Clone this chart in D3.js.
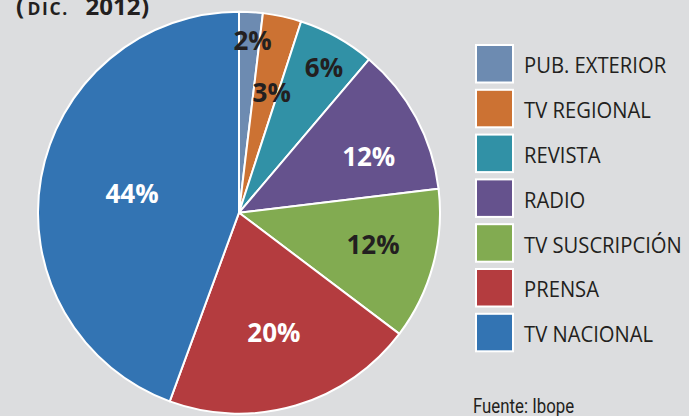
<!DOCTYPE html>
<html>
<head>
<meta charset="utf-8">
<script src="https://cdn.jsdelivr.net/npm/d3@7"></script>
<style>
  html, body { margin: 0; padding: 0; background: #dcdddf; }
  svg { display: block; }
</style>
</head>
<body>
<svg id="svg" width="689" height="416"></svg>
<script>
var categories = ["PUB. EXTERIOR", "TV REGIONAL", "REVISTA", "RADIO", "TV SUSCRIPCIÓN", "PRENSA", "TV NACIONAL"];
var shares = [1.9, 3.1, 6.2, 11.9, 12.2, 20.3, 44.4];
var shareLabels = ["2%", "3%", "6%", "12%", "12%", "20%", "44%"];
var colors = ["#6d8bb1", "#cc7233", "#3191a6", "#65528d", "#82ab51", "#b43c3f", "#3374b3"];
var labelColors = ["#231f20", "#231f20", "#231f20", "#ffffff", "#231f20", "#ffffff", "#ffffff"];
// where each % label sits: distance from centre (fraction of radius), angle shift from slice middle (deg)
var labelRadius = [0.857, 0.619, 0.836, 0.703, 0.686, 0.623, 0.54];
var labelShift = [1.1, 2.8, 1.2, 4.9, -1.6, 0.2, -0.2];

var svg = d3.select("#svg");
var center = { x: 239, y: 212.7 };
var radius = 201;

var data = categories.map(function (c, i) {
  return { name: c, value: shares[i], label: shareLabels[i], i: i };
});

// title, cut off at the top like the source
var title = svg.append("text")
  .attr("y", 15)
  .attr("font-family", "'Open Sans', sans-serif")
  .attr("font-weight", 700)
  .attr("font-size", 24)
  .attr("fill", "#231f20");
title.append("tspan").attr("x", 16).text("(");
title.append("tspan").attr("x", 27.5).attr("font-size", 17.5).attr("letter-spacing", 1.6).text("DIC.");
title.append("tspan").attr("x", 85.5).text("2012");
title.append("tspan").attr("x", 141).text(")");

var pie = d3.pie()
  .sort(null)
  .value(function (d) { return d.value; });

var arc = d3.arc().innerRadius(0).outerRadius(radius);

var g = svg.append("g")
  .attr("transform", "translate(" + center.x + "," + center.y + ")");

var arcs = pie(data);

g.selectAll("path")
  .data(arcs)
  .enter()
  .append("path")
  .attr("d", arc)
  .attr("fill", function (d) { return colors[d.data.i]; })
  .attr("stroke", "#ffffff")
  .attr("stroke-width", 2)
  .attr("stroke-linejoin", "round");

g.selectAll("text.pct")
  .data(arcs)
  .enter()
  .append("text")
  .classed("pct", true)
  .attr("transform", function (d) {
    var r = radius * labelRadius[d.data.i];
    var a = (d.startAngle + d.endAngle) / 2 + labelShift[d.data.i] * Math.PI / 180;
    return "translate(" + (r * Math.sin(a)) + "," + (-r * Math.cos(a)) + ")";
  })
  .attr("text-anchor", "middle")
  .attr("dy", "0.36em")
  .attr("font-family", "'Open Sans', sans-serif")
  .attr("font-weight", 700)
  .attr("font-size", 26)
  .attr("fill", function (d) { return labelColors[d.data.i]; })
  .text(function (d) { return d.data.label; });

// legend
var legendY = d3.scaleBand()
  .domain(categories)
  .range([44, 44 + 44.8 * categories.length])
  .paddingInner(0);

var legend = svg.append("g").attr("transform", "translate(475,0)");
var items = legend.selectAll("g")
  .data(data)
  .enter()
  .append("g")
  .attr("transform", function (d) { return "translate(0," + legendY(d.name) + ")"; });

items.append("rect")
  .attr("x", 1)
  .attr("y", 1)
  .attr("width", 37)
  .attr("height", 37.5)
  .attr("fill", function (d) { return colors[d.i]; })
  .attr("stroke", "#ffffff")
  .attr("stroke-width", 2);

items.append("text")
  .attr("transform", "translate(49,29.3) scale(0.92,1)")
  .attr("font-family", "'Open Sans', sans-serif")
  .attr("font-size", 22)
  .attr("fill", "#231f20")
  .text(function (d) { return d.name; });

svg.append("text")
  .attr("transform", "translate(473,412.5) scale(0.8,1)")
  .attr("font-family", "Roboto, sans-serif")
  .attr("font-size", 21)
  .attr("fill", "#231f20")
  .text("Fuente: Ibope");
</script>
</body>
</html>
